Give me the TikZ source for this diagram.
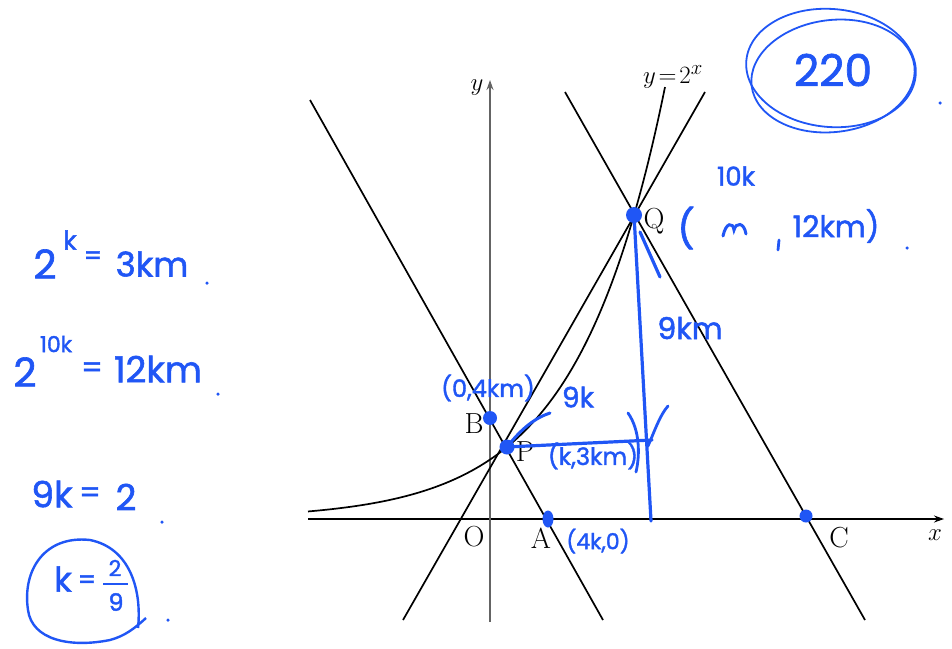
\documentclass[tikz,border=0pt]{standalone}
\usepackage{fontspec}
\newfontfamily\hand[FakeBold=1.6]{Poppins}
\usetikzlibrary{arrows.meta,shapes.geometric}
\definecolor{hb}{RGB}{32,86,245}
\definecolor{axisgray}{RGB}{100,100,100}
\tikzset{
  hw/.style={text=hb, inner sep=0pt, font=\hand\fontsize{#1}{#1}\selectfont},
  hw/.default=30,
  lbl/.style={inner sep=0pt, font=\fontsize{29}{29}\selectfont},
  blk/.style={line width=1.7pt, black},
  bline/.style={line width=3.2pt, hb, line cap=round},
  bdot/.style={circle, fill=hb, inner sep=0pt, minimum size=#1},
  hdot/.style={circle, fill=hb, inner sep=0pt, minimum size=3.5pt},
}
\begin{document}
\begin{tikzpicture}[x=1pt,y=-1pt]
\useasboundingbox (0,0) rectangle (952,648);
% axes
\coordinate (xs) at (308,519); \coordinate (xe) at (944,519);
\coordinate (ys) at (490,622); \coordinate (ye) at (490,80);
\draw[line width=1.2pt, black, -{Stealth[length=10pt,width=7pt]}] (xs) -- (xe);
\draw[line width=1.4pt, axisgray, -{Stealth[length=10pt,width=7pt]}] (ys) -- (ye);
\node[lbl] (xl) at (935,535) {$x$};
\node[lbl] (yl) at (477,88) {$y$};
\node[lbl] (ol) at (474,537) {O};
% points
\coordinate (P) at (507,447);
\coordinate (Q) at (634,215);
\coordinate (B) at (490,418);
\coordinate (A) at (548,519);
\coordinate (C) at (806,516);
% lines
\coordinate (l1a) at (310,100); \coordinate (l1b) at (603,620);
\coordinate (l2a) at (565,92);  \coordinate (l2b) at (865,620);
\coordinate (l3a) at (403,620); \coordinate (l3b) at (705,92);
\draw[blk] (l1a) -- (l1b);
\draw[blk] (l2a) -- (l2b);
\draw[blk] (l3a) -- (l3b);
\draw[blk] plot[domain=308:665, samples=120, smooth] (\x, {519-59.4*exp(0.01134*(\x-490))});
\node[lbl] (curvelbl) at (673,77) {$y\!=\!2^x$};
% black labels
\node[lbl] (bl) at (474,424) {B};
\node[lbl] (pl) at (525,452) {P};
\node[lbl] (ql) at (654,221) {Q};
\node[lbl] (al) at (541,538) {A};
\node[lbl] (cl) at (839,538) {C};
% blue strokes
\coordinate (Qb) at (651,521);
\coordinate (Pr) at (652,440);
\draw[bline] (Q) -- (Qb);
\draw[bline] (P) -- (Pr);
\draw[bline] (640,232) -- (660,277);
\draw[bline, line width=3pt] (P) .. controls (522,428) and (535,418) .. (550,413);
\draw[bline, line width=2.8pt] (628,413) .. controls (640,430) and (640,455) .. (636,472);
\draw[bline, line width=2.8pt] (648,446) .. controls (655,430) and (660,415) .. (668,406);
% blue dots
\node[bdot=15pt] (Pd) at (P) {};
\node[bdot=14pt] (Bd) at (B) {};
\node[bdot=16pt] (Qd) at (Q) {};
\node[bdot=13pt] (Cd) at (C) {};
\node[ellipse, fill=hb, inner sep=0pt, minimum width=11pt, minimum height=17pt] (Ad) at (A) {};
% blue annotations on graph
\node[hw=24] (b0) at (488,388) {(0,4km)};
\node[hw=28] (b9k) at (578,397) {9k};
\node[hw=24] (bk3) at (593,456) {(k,3km)};
\node[hw=22] (b4k) at (598,541) {(4k,0)};
\node[hw=30] (b9km) at (690,328) {9km};
\node[hw=26] (b10k) at (736,176) {10k};
\node[hw=38] (bpar) at (686,228) {(};
\draw[bline, line width=3pt] (723,236) .. controls (726,222) and (733,222) .. (734,230) .. controls (736,222) and (744,222) .. (746,234);
\draw[bline, line width=2.8pt] (779,240) -- (778,250);
\node[hw=30] (b12) at (836,226) {12km)};
\node[hdot] (dq) at (907,248) {};
% left column
\node[hw=40] (e1a) at (45,264) {2};
\node[hw=26] (e1b) at (70,240) {k};
\node[hw=26] (e1c) at (93,258) {=};
\node[hw=34] (e1d) at (152,264) {3km};
\node[hdot] (d1) at (207,283) {};
\node[hw=40] (e2a) at (25,372) {2};
\node[hw=22] (e2b) at (56,344) {10k};
\node[hw=30] (e2c) at (92,370) {=};
\node[hw=36] (e2d) at (158,369) {12km};
\node[hdot] (d2) at (218,394) {};
\node[hw=36] (e3a) at (52,494) {9k};
\node[hw=30] (e3b) at (90,495) {=};
\node[hw=36] (e3c) at (126,497) {2};
\node[hdot] (d3) at (162,522) {};
\node[hw=34] (e4a) at (63,579) {k};
\node[hw=26] (e4b) at (87,582) {=};
\node[hw=22] (e4c) at (115,568) {2};
\coordinate (fr1) at (103,584); \coordinate (fr2) at (128,584);
\draw[line width=2.4pt, hb] (fr1) -- (fr2);
\node[hw=24] (e4d) at (116,602) {9};
\draw[line width=2.4pt, hb] (138,628) .. controls (142,590) and (130,548) .. (90,540) .. controls (45,535) and (22,570) .. (28,610) .. controls (32,640) and (70,648) .. (110,640) .. controls (125,636) and (135,628) .. (146,618);
\node[hdot] (d4) at (168,620) {};
% 220
\node[hw=44] (t220) at (833,70) {220};
\draw[line width=1.8pt, hb, rotate around={-5:(831,68)}] (831,68) ellipse [x radius=85pt, y radius=59pt];
\draw[line width=1.8pt, hb, rotate around={7:(833,76)}] (833,76) ellipse [x radius=82pt, y radius=56pt];
\node[hdot] (d5) at (940,103) {};
\end{tikzpicture}
\end{document}
